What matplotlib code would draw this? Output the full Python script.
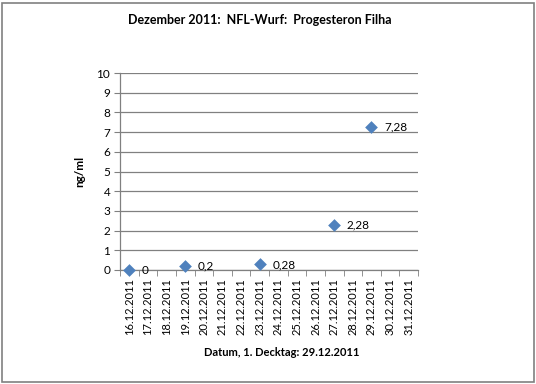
import numpy as np
import matplotlib.pyplot as plt
from matplotlib.patches import Rectangle

plt.rcParams['font.family'] = ['Lato', 'DejaVu Sans']

# category dates on the x axis
dates = ['16.12.2011', '17.12.2011', '18.12.2011', '19.12.2011', '20.12.2011',
         '21.12.2011', '22.12.2011', '23.12.2011', '24.12.2011', '25.12.2011',
         '26.12.2011', '27.12.2011', '28.12.2011', '29.12.2011', '30.12.2011',
         '31.12.2011']

# measured values
meas_dates = ['16.12.2011', '19.12.2011', '23.12.2011', '27.12.2011', '29.12.2011']
meas_values = [0, 0.2, 0.28, 2.28, 7.28]
meas_labels = ['0', '0,2', '0,28', '2,28', '7,28']

yticks = list(range(0, 11))

fig = plt.figure(figsize=(5.36, 3.84), dpi=100)
ax = fig.add_axes([120 / 536, 1 - 270 / 384, 298 / 536, 197 / 384])

grid_col = '#808080'
x_pos = [dates.index(d) for d in meas_dates]
ax.scatter(x_pos, meas_values, marker='D', s=42, color='#4F81BD', zorder=3,
           linewidths=0, clip_on=False)
for x, y, lab in zip(x_pos, meas_values, meas_labels):
    ax.annotate(lab, (x, y), xytext=(9, 0), textcoords='offset points',
                va='center', ha='left', fontsize=8.5)

ax.set_xlim(-0.5, len(dates) - 0.5)
ax.set_ylim(0, 10)
ax.set_yticks(yticks)
ax.set_yticklabels([str(v) for v in yticks], fontsize=8.5)
ax.yaxis.grid(True, color=grid_col, linewidth=0.9)
ax.set_axisbelow(True)

ax.set_xticks(range(len(dates)))
ax.set_xticklabels(dates, rotation=90, fontsize=8)
ax.set_xticks(np.arange(-0.5, len(dates)), minor=True)
ax.tick_params(axis='x', which='major', length=0, pad=6)
ax.tick_params(axis='x', which='minor', length=4, color=grid_col)
ax.tick_params(axis='y', length=4, color=grid_col, pad=3)

for s in ['top', 'right']:
    ax.spines[s].set_visible(False)
for s in ['left', 'bottom']:
    ax.spines[s].set_color(grid_col)
    ax.spines[s].set_linewidth(0.9)

ax.set_ylabel('ng/ml', fontsize=8.5, fontweight='bold', labelpad=8)
fig.text(282 / 536, 1 - 352 / 384, 'Datum, 1. Decktag: 29.12.2011',
         ha='center', va='center', fontsize=8, fontweight='bold')
fig.text(260 / 536, 1 - 20 / 384, 'Dezember 2011:  NFL-Wurf:  Progesteron Filha',
         ha='center', va='center', fontsize=9, fontweight='bold')

fig.patches.append(Rectangle((2 / 536, 2 / 384), 532 / 536, 379 / 384,
                             transform=fig.transFigure, fill=False,
                             edgecolor='#808080', linewidth=1.2))

fig.savefig('out.png', dpi=100)
